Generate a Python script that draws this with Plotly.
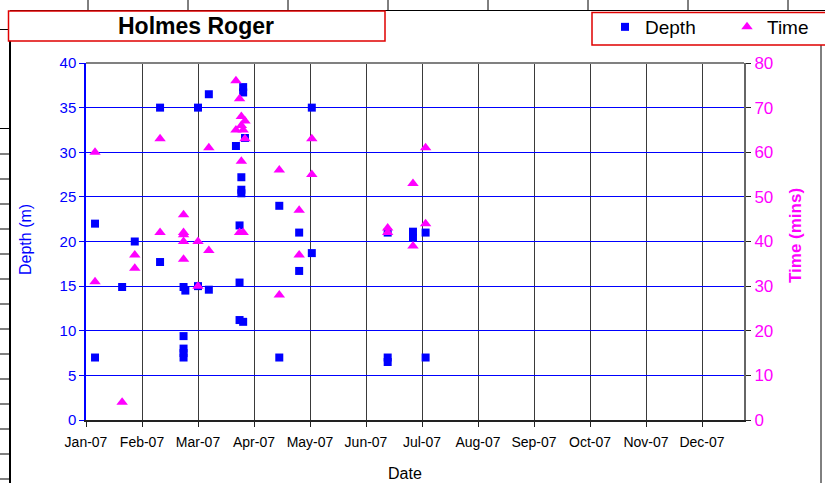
import plotly.graph_objects as go

W, H = 825, 483

# ---------------- data ----------------
depth_dates = [
    "2007-01-06", "2007-01-06", "2007-01-21", "2007-01-28",
    "2007-02-11", "2007-02-11",
    "2007-02-24", "2007-02-24", "2007-02-24", "2007-02-24", "2007-02-24", "2007-02-25",
    "2007-03-04", "2007-03-04", "2007-03-10", "2007-03-10",
    "2007-03-25", "2007-03-27", "2007-03-27", "2007-03-27",
    "2007-03-28", "2007-03-28", "2007-03-28", "2007-03-29", "2007-03-29", "2007-03-29",
    "2007-03-30",
    "2007-04-18", "2007-04-18", "2007-04-29", "2007-04-29",
    "2007-05-06", "2007-05-06",
    "2007-06-17", "2007-06-17", "2007-06-17",
    "2007-07-01", "2007-07-01", "2007-07-08", "2007-07-08",
]
depth_values = [
    22, 7, 14.9, 20,
    35, 17.7,
    9.4, 8.0, 7.5, 7.0, 14.9, 14.5,
    35, 15, 36.5, 14.6,
    30.7, 21.8, 15.4, 11.2,
    27.2, 25.8, 25.4, 37.3, 36.7, 11.0,
    31.6,
    24, 7, 21, 16.7,
    35, 18.7,
    21, 7, 6.5,
    21.1, 20.4, 21, 7,
]

time_dates = [
    "2007-01-06", "2007-01-06", "2007-01-21", "2007-01-28", "2007-01-28",
    "2007-02-11", "2007-02-11",
    "2007-02-24", "2007-02-24", "2007-02-24", "2007-02-24", "2007-02-24",
    "2007-03-04", "2007-03-04", "2007-03-10", "2007-03-10",
    "2007-03-25", "2007-03-25", "2007-03-27", "2007-03-27",
    "2007-03-28", "2007-03-28", "2007-03-28", "2007-03-29", "2007-03-29",
    "2007-03-30", "2007-03-30",
    "2007-04-18", "2007-04-18", "2007-04-29", "2007-04-29",
    "2007-05-06", "2007-05-06",
    "2007-06-17", "2007-06-17",
    "2007-07-01", "2007-07-01", "2007-07-08", "2007-07-08",
]
time_values = [
    60, 31, 4, 37, 34,
    63, 42,
    46, 42, 41.5, 40, 36,
    40, 30, 61, 38,
    76, 65, 72, 42,
    68, 66, 58, 65, 42,
    67, 63,
    56, 28, 47, 37,
    63, 55,
    43, 42,
    53, 39, 61, 44,
]

chart_title = "Holmes Roger"
x_title = "Date"
y_title = "Depth (m)"
y2_title = "Time (mins)"

# ---------------- helpers ----------------
def px(x):
    return x / W

def py(y):
    return 1 - y / H

BLUE = "#0000FF"
MAG = "#FF00FF"
FONT = "Arial, Liberation Sans, sans-serif"

fig = go.Figure()
fig.add_trace(go.Scatter(
    x=depth_dates, y=depth_values, mode="markers", name="Depth",
    marker=dict(symbol="square", size=8, color=BLUE, line=dict(width=0)),
    yaxis="y", legendwidth=77,
))
fig.add_trace(go.Scatter(
    x=time_dates, y=time_values, mode="markers", name="Time",
    marker=dict(symbol="triangle-up", size=10, color=MAG, line=dict(width=0)),
    yaxis="y2",
))

shapes = []
def line(x0, y0, x1, y1, color="black", width=1):
    shapes.append(dict(type="line", xref="paper", yref="paper",
                       x0=px(x0), y0=py(y0), x1=px(x1), y1=py(y1),
                       line=dict(color=color, width=width)))

# spreadsheet cell borders behind the chart
line(10, 10.5, 825, 10.5)
for xv in [88, 188, 288, 388, 488, 588, 688, 788]:
    line(xv, 0, xv, 10.5)
line(10, 29.5, 10, 483, width=2)
for yv in [29.5, 128.5, 154, 179, 204, 229, 254, 279, 304, 329, 354, 379, 404, 429, 454, 479]:
    line(0, yv, 10, yv)
line(821, 45, 821, 483)

# title box and legend box
shapes.append(dict(type="rect", xref="paper", yref="paper",
                   x0=px(8.5), x1=px(385), y0=py(41), y1=py(11),
                   line=dict(color="#E00000", width=1.5), fillcolor="white"))
shapes.append(dict(type="rect", xref="paper", yref="paper",
                   x0=px(592), x1=px(830), y0=py(45), y1=py(12.5),
                   line=dict(color="#E00000", width=1.5), fillcolor="white"))
# top border of plot area
line(86, 63, 744, 63, color="#808080", width=2)

annotations = [
    dict(text=f"<b>{chart_title}</b>", x=px(196), y=py(26), xref="paper", yref="paper",
         showarrow=False, font=dict(family=FONT, size=23, color="black"),
         xanchor="center", yanchor="middle"),
    dict(text=x_title, x=px(405), y=py(473), xref="paper", yref="paper",
         showarrow=False, font=dict(family=FONT, size=16, color="black"),
         xanchor="center", yanchor="middle"),
    dict(text=y_title, x=px(25), y=py(240), xref="paper", yref="paper",
         showarrow=False, textangle=-90, font=dict(family=FONT, size=16, color=BLUE),
         xanchor="center", yanchor="middle"),
    dict(text=f"<b>{y2_title}</b>", x=px(795), y=py(236), xref="paper", yref="paper",
         showarrow=False, textangle=-90, font=dict(family=FONT, size=17, color=MAG),
         xanchor="center", yanchor="middle"),
]

fig.update_layout(
    template="none",
    width=W, height=H,
    margin=dict(l=0, r=0, t=0, b=0, pad=0),
    paper_bgcolor="white", plot_bgcolor="rgba(0,0,0,0)",
    font=dict(family=FONT),
    shapes=shapes,
    annotations=annotations,
    showlegend=True,
    legend=dict(orientation="h", x=px(605), y=py(8), xanchor="left", yanchor="top",
                bgcolor="rgba(0,0,0,0)", borderwidth=0,
                font=dict(family=FONT, size=19, color="black")),
    xaxis=dict(
        type="date", domain=[px(86), px(744)], automargin=False,
        range=["2007-01-01", "2007-12-31 06:00"],
        tick0="2007-01-01", dtick=31 * 86400000, tickformat="%b-%y",
        showgrid=True, gridcolor="#3a3a3a", gridwidth=1,
        showline=True, linecolor="#222222", linewidth=1.5,
        ticks="outside", ticklen=5, tickcolor="#222222",
        ticklabelstandoff=3,
        tickfont=dict(family=FONT, size=14, color="black"),
        zeroline=False,
    ),
    yaxis=dict(
        domain=[py(420), py(63)], range=[0, 40], dtick=5, automargin=False,
        showgrid=True, gridcolor=BLUE, gridwidth=1,
        showline=True, linecolor=BLUE, linewidth=1.5,
        ticks="outside", ticklen=5, tickcolor=BLUE,
        tickfont=dict(family=FONT, size=15, color=BLUE),
        zeroline=False,
    ),
    yaxis2=dict(
        overlaying="y", side="right", range=[0, 80], dtick=10, automargin=False,
        showgrid=False, showline=True, linecolor="#666666", linewidth=2,
        ticks="outside", ticklen=5, tickcolor="#222222",
        tickfont=dict(family=FONT, size=17, color=MAG),
        zeroline=False, anchor="x",
    ),
)

fig.write_html(
    "out.html",
    config={"displayModeBar": False},
    post_script="document.body.style.margin='0px';document.body.style.padding='0px';",
)
